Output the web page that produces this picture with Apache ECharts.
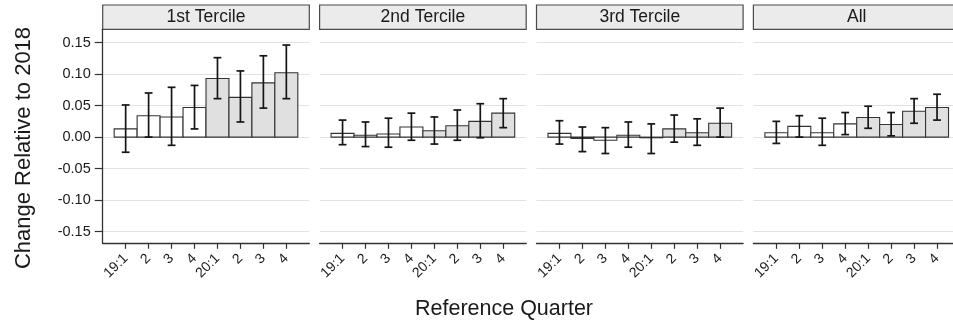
<!DOCTYPE html>
<html>
<head>
<meta charset="utf-8">
<script src="https://cdn.jsdelivr.net/npm/echarts@6/dist/echarts.min.js"></script>
<style>
  html, body { margin: 0; padding: 0; background: #ffffff; }
  #chart { width: 953px; height: 324px; }
</style>
</head>
<body>
<div id="chart"></div>
<script>
// Quarter labels along each panel's x axis and the year each quarter belongs to
const quarterLabels = ['19:1', '2', '3', '4', '20:1', '2', '3', '4'];
const quarterYear = [2019, 2019, 2019, 2019, 2020, 2020, 2020, 2020];
const panelTitles = ['1st Tercile', '2nd Tercile', '3rd Tercile', 'All'];
const yTicks = [-0.15, -0.10, -0.05, 0.00, 0.05, 0.10, 0.15];

// Point estimates and confidence bounds, one set per panel
const tercile1Est = [0.013, 0.034, 0.032, 0.047, 0.093, 0.063, 0.086, 0.102];
const tercile1Lo  = [-0.024, 0.000, -0.013, 0.013, 0.061, 0.024, 0.046, 0.061];
const tercile1Hi  = [0.051, 0.070, 0.079, 0.082, 0.126, 0.105, 0.129, 0.146];

const tercile2Est = [0.006, 0.003, 0.005, 0.016, 0.010, 0.018, 0.025, 0.038];
const tercile2Lo  = [-0.012, -0.015, -0.016, -0.005, -0.011, -0.005, -0.001, 0.015];
const tercile2Hi  = [0.027, 0.024, 0.030, 0.038, 0.032, 0.043, 0.053, 0.061];

const tercile3Est = [0.006, -0.002, -0.005, 0.003, -0.001, 0.013, 0.007, 0.022];
const tercile3Lo  = [-0.011, -0.023, -0.026, -0.016, -0.026, -0.008, -0.013, 0.000];
const tercile3Hi  = [0.026, 0.016, 0.015, 0.024, 0.021, 0.035, 0.029, 0.046];

const allEst = [0.007, 0.017, 0.007, 0.021, 0.031, 0.020, 0.041, 0.047];
const allLo  = [-0.010, 0.000, -0.013, 0.004, 0.014, 0.002, 0.022, 0.027];
const allHi  = [0.025, 0.034, 0.030, 0.039, 0.049, 0.039, 0.061, 0.068];

const panelEst = [tercile1Est, tercile2Est, tercile3Est, allEst];
const panelLo  = [tercile1Lo, tercile2Lo, tercile3Lo, allLo];
const panelHi  = [tercile1Hi, tercile2Hi, tercile3Hi, allHi];

// Layout of the facet grid
const FONT = '"Liberation Sans", Arial, Helvetica, sans-serif';
const PANEL_LEFT = 102.7;
const PANEL_W = 206.6;
const PANEL_STEP = 216.9;
const PLOT_TOP = 29.3;
const PLOT_H = 214;
const STRIP_TOP = 5;
const Y_MIN = -0.1684;
const Y_MAX = 0.1710;
const TEXT_DARK = '#1a1a1a';
const LINE_DARK = '#333333';

const positions = quarterLabels.map((_, i) => i + 1);

function renderBarWithError(params, api) {
  const x = api.value(0);
  const est = api.value(1);
  const lo = api.value(2);
  const hi = api.value(3);
  const year = api.value(4);
  const base = api.coord([x - 0.5, 0]);
  const top = api.coord([x + 0.5, est]);
  const c = api.coord([x, lo]);
  const d = api.coord([x, hi]);
  const capHalf = (api.coord([x + 0.17, 0])[0] - api.coord([x, 0])[0]);
  return {
    type: 'group',
    children: [
      {
        type: 'rect',
        shape: {
          x: base[0],
          y: Math.min(base[1], top[1]),
          width: top[0] - base[0],
          height: Math.max(Math.abs(base[1] - top[1]), 0.5)
        },
        style: { fill: year === 2020 ? '#e0e0e0' : '#ffffff', stroke: LINE_DARK, lineWidth: 1.1 }
      },
      {
        type: 'line',
        shape: { x1: c[0], y1: c[1], x2: d[0], y2: d[1] },
        style: { stroke: '#151515', lineWidth: 1.7 }
      },
      {
        type: 'line',
        shape: { x1: c[0] - capHalf, y1: c[1], x2: c[0] + capHalf, y2: c[1] },
        style: { stroke: '#151515', lineWidth: 1.7 }
      },
      {
        type: 'line',
        shape: { x1: d[0] - capHalf, y1: d[1], x2: d[0] + capHalf, y2: d[1] },
        style: { stroke: '#151515', lineWidth: 1.7 }
      }
    ]
  };
}

const grids = [], xAxes = [], yAxes = [], series = [], graphics = [];

panelTitles.forEach((title, p) => {
  const left = PANEL_LEFT + p * PANEL_STEP;
  grids.push({
    left: left, top: PLOT_TOP, width: PANEL_W, height: PLOT_H,
    containLabel: false, outerBoundsMode: 'none'
  });
  xAxes.push({
    type: 'value', gridIndex: p, min: 0, max: 9,
    axisLine: { show: true, onZero: false, lineStyle: { color: LINE_DARK, width: 1.3 } },
    axisTick: { show: true, length: 5.5, customValues: positions, lineStyle: { color: LINE_DARK, width: 1.2 } },
    axisLabel: {
      show: true, customValues: positions, rotate: 45, margin: 13,
      fontFamily: FONT, fontSize: 14, color: TEXT_DARK,
      formatter: v => quarterLabels[Math.round(v) - 1] || ''
    },
    splitLine: { show: false }
  });
  yAxes.push({
    type: 'value', gridIndex: p, min: Y_MIN, max: Y_MAX,
    axisLine: { show: p === 0, onZero: false, lineStyle: { color: LINE_DARK, width: 1.3 } },
    axisTick: { show: p === 0, length: 8, customValues: yTicks, lineStyle: { color: LINE_DARK, width: 1.2 } },
    axisLabel: {
      show: p === 0, customValues: yTicks, margin: 12,
      fontFamily: FONT, fontSize: 14.5, color: TEXT_DARK,
      formatter: v => v.toFixed(2)
    },
    splitLine: { show: true, lineStyle: { color: '#e2e2e2', width: 1.2 } }
  });
  series.push({
    type: 'custom', xAxisIndex: p, yAxisIndex: p,
    renderItem: renderBarWithError,
    encode: { x: 0, y: [1, 2, 3] },
    data: positions.map((pos, i) => [pos, panelEst[p][i], panelLo[p][i], panelHi[p][i], quarterYear[i]]),
    silent: true
  });
  // facet strip above each panel
  graphics.push({
    type: 'rect',
    shape: { x: left, y: STRIP_TOP, width: PANEL_W, height: PLOT_TOP - STRIP_TOP },
    style: { fill: '#ebebeb', stroke: '#4a4a4a', lineWidth: 1.2 }
  });
  graphics.push({
    type: 'text',
    x: left + PANEL_W / 2, y: STRIP_TOP + (PLOT_TOP - STRIP_TOP) / 2 + 0.5,
    style: {
      text: title, fontFamily: FONT, fontSize: 17.5, fill: TEXT_DARK,
      textAlign: 'center', textVerticalAlign: 'middle'
    }
  });
});

graphics.push({
  type: 'text', x: 24, y: 148, rotation: Math.PI / 2,
  style: {
    text: 'Change Relative to 2018', fontFamily: FONT, fontSize: 22, fill: TEXT_DARK,
    textAlign: 'center', textVerticalAlign: 'middle'
  }
});
graphics.push({
  type: 'text', x: 504, y: 309,
  style: {
    text: 'Reference Quarter', fontFamily: FONT, fontSize: 21.5, fill: TEXT_DARK,
    textAlign: 'center', textVerticalAlign: 'middle'
  }
});

const chart = echarts.init(document.getElementById('chart'), null, { renderer: 'canvas' });
chart.setOption({
  animation: false,
  backgroundColor: '#ffffff',
  grid: grids,
  xAxis: xAxes,
  yAxis: yAxes,
  series: series,
  graphic: { elements: graphics }
});
</script>
</body>
</html>
